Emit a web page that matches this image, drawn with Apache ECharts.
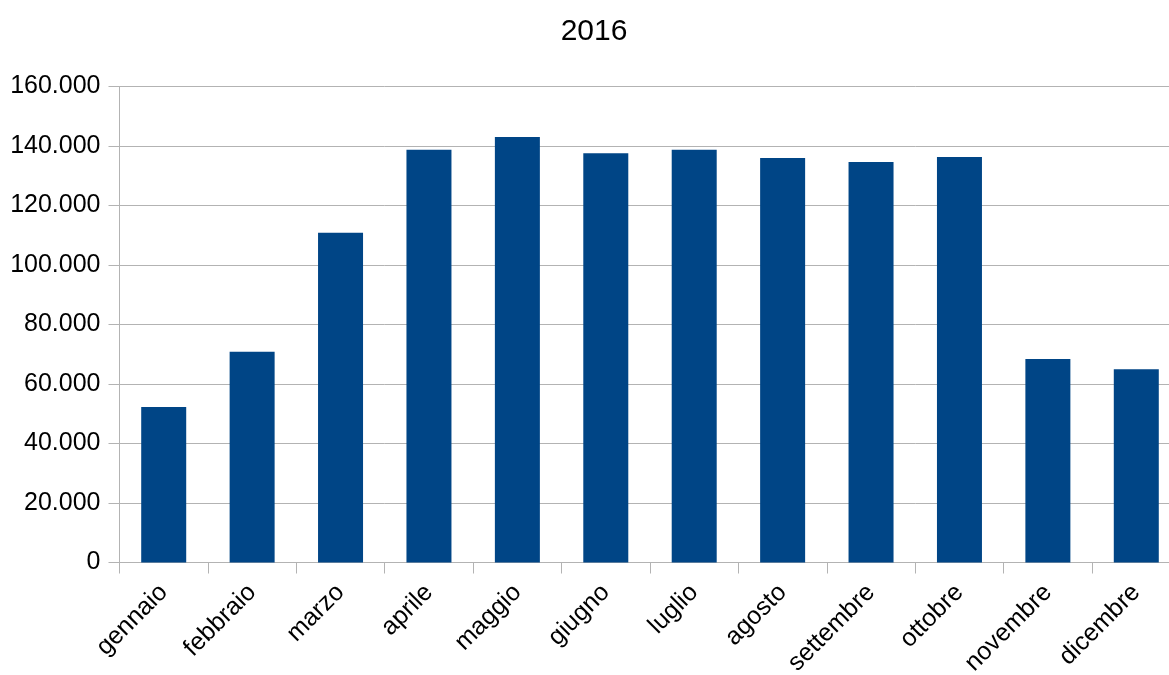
<!DOCTYPE html>
<html>
<head>
<meta charset="utf-8">
<script src="https://cdn.jsdelivr.net/npm/echarts@6/dist/echarts.min.js"></script>
<style>
html,body{margin:0;padding:0;background:#fff;overflow:hidden;width:1169px;height:675px;}
#chart{width:1181px;height:675px;}
</style>
</head>
<body>
<div id="chart"></div>
<script>
const titleText = '2016';
const categories = ['gennaio','febbraio','marzo','aprile','maggio','giugno','luglio','agosto','settembre','ottobre','novembre','dicembre'];
const values = [52300, 70800, 110800, 138700, 143000, 137600, 138700, 136000, 134600, 136300, 68400, 65000];
const yTicks = {min: 0, max: 160000, interval: 20000};

const chart = echarts.init(document.getElementById('chart'));
const font = '"Liberation Sans", Arial, sans-serif';
chart.setOption({
  animation: false,
  backgroundColor: '#ffffff',
  title: {
    text: titleText,
    left: 589,
    top: 12,
    textAlign: 'center',
    textStyle: {fontFamily: font, fontSize: 30, fontWeight: 'normal', color: '#000'}
  },
  grid: {left: 119.5, top: 86.5, width: 1061, height: 476, containLabel: false, outerBoundsMode: 'none'},
  xAxis: {
    type: 'category',
    data: categories,
    axisLine: {lineStyle: {color: '#b3b3b3', width: 1}},
    axisTick: {show: true, length: 11, alignWithLabel: false, lineStyle: {color: '#b3b3b3'}},
    axisLabel: {rotate: 45, margin: 26, fontFamily: font, fontSize: 25, color: '#000', interval: 0}
  },
  yAxis: {
    type: 'value',
    min: yTicks.min, max: yTicks.max, interval: yTicks.interval,
    axisLine: {show: true, lineStyle: {color: '#b3b3b3', width: 1}},
    axisTick: {show: true, length: 11, inside: false, lineStyle: {color: '#b3b3b3'}},
    splitLine: {show: true, lineStyle: {color: '#b3b3b3', width: 1}},
    axisLabel: {
      margin: 19, fontFamily: font, fontSize: 25, color: '#000',
      formatter: v => v === 0 ? '0' : v.toLocaleString('it-IT').replace(/,/g,'.').replace(/\u00a0/g,'.')
    }
  },
  series: [{
    type: 'bar',
    data: values,
    barWidth: 45,
    itemStyle: {color: '#004586'}
  }]
});
</script>
</body>
</html>
